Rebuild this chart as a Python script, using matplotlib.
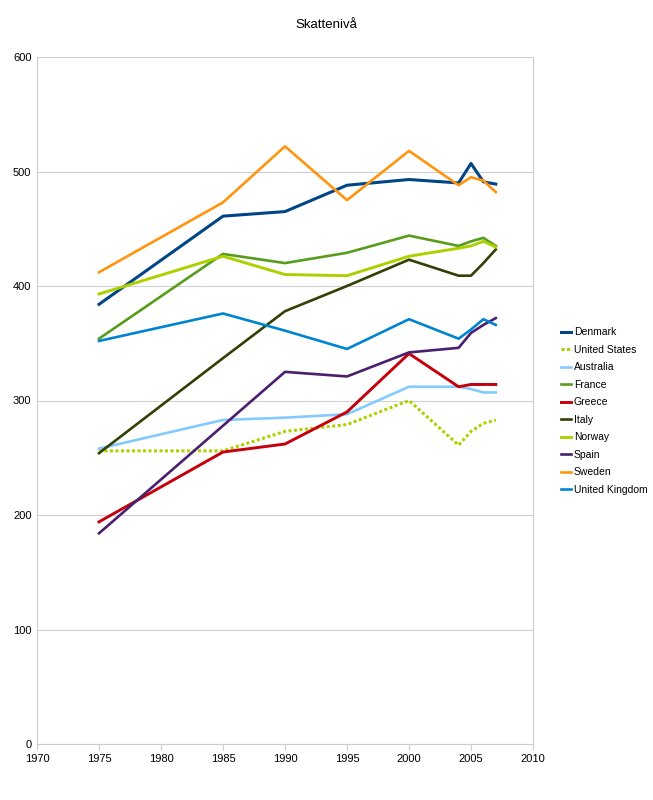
import matplotlib
matplotlib.use("Agg")
import matplotlib.pyplot as plt

plt.rcParams['font.family'] = ['Liberation Sans', 'DejaVu Sans']

# Data
years = [1975, 1985, 1990, 1995, 2000, 2004, 2005, 2006, 2007]

denmark = [384, 461, 465, 488, 493, 490, 507, 491, 489]
united_states = [256, 256, 273, 279, 300, 261, 273, 280, 283]
australia = [258, 283, 285, 288, 312, 312, 310, 307, 307]
france = [354, 428, 420, 429, 444, 435, 439, 442, 435]
greece = [194, 255, 262, 290, 341, 312, 314, 314, 314]
italy = [254, 337, 378, 400, 423, 409, 409, 420, 432]
norway = [393, 426, 410, 409, 426, 433, 435, 439, 434]
spain = [184, 278, 325, 321, 342, 346, 359, 366, 372]
sweden = [412, 473, 522, 475, 518, 488, 495, 492, 482]
united_kingdom = [352, 376, 361, 345, 371, 354, 362, 371, 366]

series = [
    ('Denmark', denmark, '#004586', '-', 2.2),
    ('United States', united_states, '#b0d000', (0, (1, 0.8)), 2.2),
    ('Australia', australia, '#83caff', '-', 1.9),
    ('France', france, '#579d1c', '-', 1.9),
    ('Greece', greece, '#c5000b', '-', 2.1),
    ('Italy', italy, '#314004', '-', 1.9),
    ('Norway', norway, '#aecf00', '-', 2.1),
    ('Spain', spain, '#4b1f6f', '-', 1.9),
    ('Sweden', sweden, '#ff950e', '-', 1.9),
    ('United Kingdom', united_kingdom, '#0084d1', '-', 1.9),
]

fig = plt.figure(figsize=(6.53, 8.0), dpi=100)
ax = fig.add_axes([37 / 653, 56 / 800, 496 / 653, 687 / 800])

for name, vals, col, ls, lw in series:
    ax.plot(years, vals, color=col, linestyle=ls, linewidth=lw, label=name)

ax.set_xlim(1970, 2010)
ax.set_ylim(0, 600)
ax.set_xticks(range(1970, 2011, 5))
ax.set_yticks(range(0, 601, 100))
ax.yaxis.grid(True, color='#d0d0d0', linewidth=0.8)
ax.set_axisbelow(True)
for s in ['left', 'right', 'bottom']:
    ax.spines[s].set_color('#cccccc')
ax.spines['top'].set_visible(False)
ax.tick_params(axis='both', labelsize=8, colors='#cccccc', labelcolor='black', length=4)
ax.tick_params(axis='y', length=0, pad=4)

fig.text(0.5, 1 - 25 / 800, 'Skattenivå', ha='center', va='center', fontsize=9.5)

ax.legend(loc='center left', bbox_to_anchor=(556 / 653, 1 - 411 / 800),
          bbox_transform=fig.transFigure, frameon=False, fontsize=7.5,
          handlelength=0.9, handletextpad=0.3, labelspacing=0.72, borderpad=0)

fig.savefig('out.png', dpi=100)
